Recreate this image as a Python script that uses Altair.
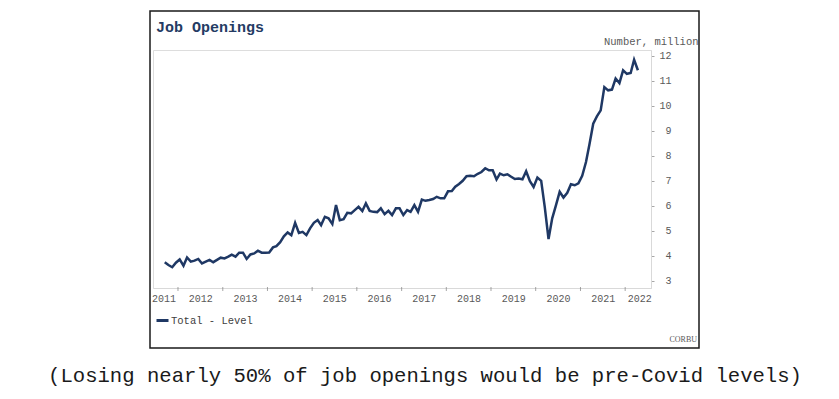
import altair as alt
import pandas as pd

# ---- data ----
first_month = "2011-09-01"
openings = [
    3.75, 3.64, 3.55, 3.73,
    3.86, 3.61, 3.94, 3.77, 3.81, 3.88, 3.70, 3.77, 3.84, 3.75, 3.84, 3.93,
    3.90, 3.97, 4.05, 3.97, 4.13, 4.13, 3.88, 4.06, 4.10, 4.21, 4.13, 4.13,
    4.14, 4.34, 4.39, 4.55, 4.78, 4.94, 4.83, 5.32, 4.92, 4.96, 4.83, 5.10,
    5.32, 5.43, 5.23, 5.56, 5.50, 5.27, 6.03, 5.43, 5.47, 5.72, 5.70, 5.83,
    5.96, 5.79, 6.10, 5.80, 5.76, 5.75, 5.90, 5.67, 5.80, 5.63, 5.90, 5.90,
    5.63, 5.83, 5.76, 6.03, 5.76, 6.25, 6.20, 6.23, 6.27, 6.36, 6.30, 6.30,
    6.58, 6.59, 6.76, 6.87, 7.00, 7.18, 7.20, 7.18, 7.28, 7.35, 7.50, 7.42,
    7.42, 7.05, 7.29, 7.22, 7.26, 7.16, 7.07, 7.09, 7.06, 7.38, 6.98, 6.75,
    7.13, 7.00, 5.96, 4.67, 5.50, 6.03, 6.56, 6.33, 6.52, 6.86, 6.82, 6.90,
    7.20, 7.75, 8.45, 9.28, 9.57, 9.81, 10.74, 10.61, 10.64, 11.08, 10.90, 11.41,
    11.27, 11.30, 11.83, 11.41,
]
label_years = list(range(2011, 2023))
tick_years = list(range(2012, 2023))
y_ticks = list(range(3, 13))
title_text = "Job Openings"
unit_text = "Number, million"
series_name = "Total - Level"
source_text = "CORBU"
caption_text = "(Losing nearly 50% of job openings would be pre-Covid levels)"

dates = pd.date_range(first_month, periods=len(openings), freq="MS") + pd.Timedelta(days=14)
df = pd.DataFrame({"date": dates, "value": openings, "series": series_name})
ticks_df = pd.DataFrame({"date": pd.to_datetime([f"{y}-01-01" for y in tick_years])})
one = pd.DataFrame({"k": [0]})

# ---- styling ----
W, H = 498, 238
NAVY = "#1f3864"
MONO = "Liberation Mono"
GRAY = "#595959"

x_scale = alt.Scale(
    domain=[alt.DateTime(year=2011, month=6, date=11), alt.DateTime(year=2022, month=7, date=31)],
    nice=False,
)
y_scale = alt.Scale(domain=[2.72, 12.22], nice=False, zero=False)

x_axis = alt.Axis(
    values=[alt.DateTime(year=y, month=7, date=1) for y in label_years],
    format="%Y", ticks=False, grid=False, title=None,
    domainColor="#d9d9d9", labelFont=MONO, labelFontSize=10, labelColor=GRAY,
    labelPadding=5, labelFlush=10, labelFlushOffset=4, labelOverlap=False,
)
y_axis = alt.Axis(
    orient="right", values=y_ticks, grid=False, title=None,
    domainColor="#d9d9d9", tickColor="#a6a6a6", tickSize=3,
    labelFont=MONO, labelFontSize=10, labelColor=GRAY,
    labelAlign="right", labelPadding=17,
)

line = alt.Chart(df).mark_line(strokeWidth=2.5).encode(
    x=alt.X("date:T", scale=x_scale, axis=x_axis),
    y=alt.Y("value:Q", scale=y_scale, axis=y_axis),
    color=alt.Color(
        "series:N",
        scale=alt.Scale(domain=[series_name], range=[NAVY]),
        legend=alt.Legend(
            orient="none", legendX=2, legendY=263, title=None,
            symbolType="stroke", symbolStrokeWidth=3, symbolSize=144,
            labelFont=MONO, labelFontSize=10.5, labelColor="#404040", labelOffset=1,
        ),
    ),
)

xticks = alt.Chart(ticks_df).mark_tick(color="#808080", thickness=1, size=4).encode(
    x=alt.X("date:T", scale=x_scale),
    y=alt.value(H + 1),
)

frame = alt.Chart(one).mark_rect(fill=None, stroke="#1a1a1a", strokeWidth=1.5).encode(
    x=alt.value(-3), x2=alt.value(546), y=alt.value(-39), y2=alt.value(298)
)

title = alt.Chart(one).mark_text(
    text=title_text, font=MONO, fontSize=15, fontWeight="bold", color="#243b63",
    align="left", baseline="alphabetic",
).encode(x=alt.value(3), y=alt.value(-18))

unit = alt.Chart(one).mark_text(
    text=unit_text, font=MONO, fontSize=10.5, color=GRAY, align="left", baseline="alphabetic",
).encode(x=alt.value(451), y=alt.value(-5))

source = alt.Chart(one).mark_text(
    text=source_text, font="Liberation Serif", fontSize=8, color="#595959",
    align="right", baseline="alphabetic",
).encode(x=alt.value(544), y=alt.value(292))

caption = alt.Chart(one).mark_text(
    text=caption_text, font=MONO, fontSize=20.6, color="#1a1a1a",
    align="center", baseline="middle",
).encode(x=alt.value(272), y=alt.value(326))

chart = alt.layer(line, xticks, title, unit, source, caption, frame).properties(
    width=W, height=H,
    autosize=alt.AutoSizeParams(type="none"),
    padding={"left": 145, "top": 42, "right": 170, "bottom": 100},
).configure_view(stroke=None).configure(background="white")

chart.save("out.html", embed_options={"renderer": "svg", "actions": False})
